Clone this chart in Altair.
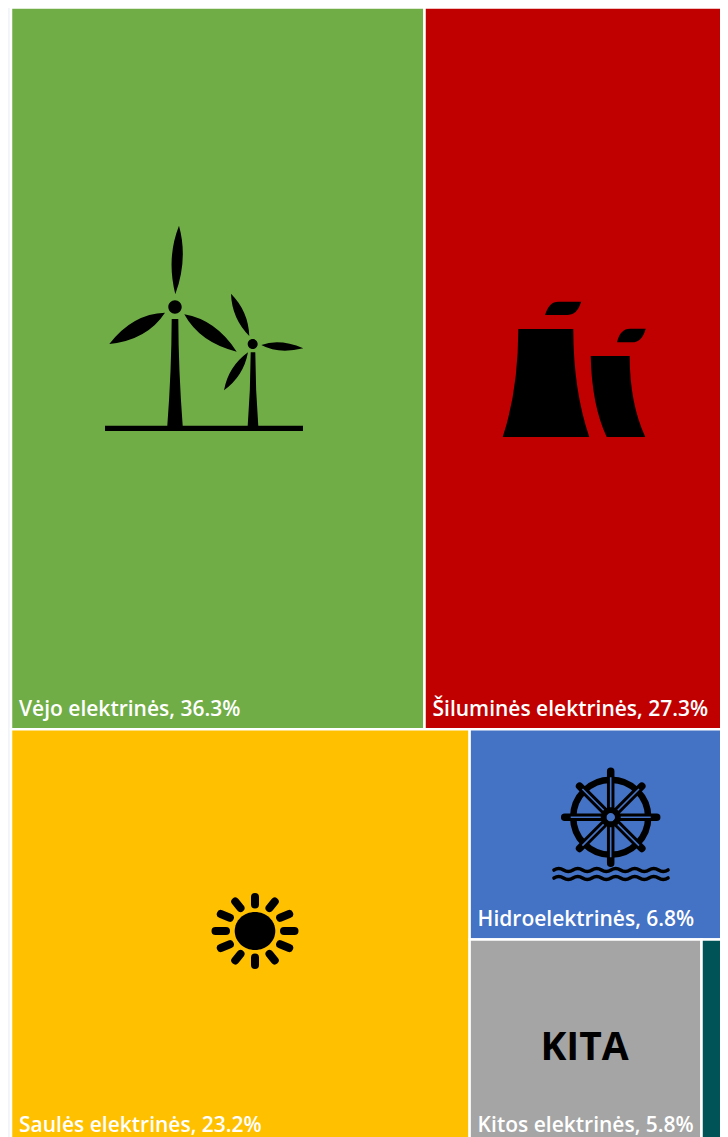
import math
import altair as alt
import pandas as pd

names = ["Vėjo elektrinės", "Šiluminės elektrinės", "Saulės elektrinės",
         "Hidroelektrinės", "Kitos elektrinės", "Kita"]
shares = [36.3, 27.3, 23.2, 6.8, 5.8, 0.85]
shown = ["36.3%", "27.3%", "23.2%", "6.8%", "5.8%", ""]
colors = ["#70AD47", "#C00000", "#FFC000", "#4472C4", "#A5A5A5", "#005357"]

# treemap layout, in percent of the whole width / height
top = shares[0] + shares[1]
bottom = sum(shares[2:])
total = top + bottom
row1 = top / total * 100
side = sum(shares[3:])
xa = shares[0] / top * 100
xb = shares[2] / bottom * 100
yb = row1 + (100 - row1) * shares[3] / side
xc = xb + (100 - xb) * shares[4] / (shares[4] + shares[5])
boxes = [(0, xa, 0, row1), (xa, 100, 0, row1), (0, xb, row1, 100),
         (xb, 100, row1, yb), (xb, xc, yb, 100), (xc, 100, yb, 100)]

df = pd.DataFrame(boxes, columns=["x0", "x1", "y0", "y1"])
df["name"] = names
df["label"] = [f"{n}, {s}" if s else "" for n, s in zip(names, shown)]

# page geometry of the treemap (pixels per percent, and origin on the page)
SX, SY, OX, OY = 7.245, 11.375, 11.0, 7.6
W, H = 712, 1129
x_scale = alt.Scale(domain=[(8 - OX) / SX, (8 + W - OX) / SX], nice=False, zero=False)
y_scale = alt.Scale(domain=[(8 + H - OY) / SY, (8 - OY) / SY], nice=False, zero=False)
X = lambda f: alt.X(f, type="quantitative", scale=x_scale, axis=None)
Y = lambda f: alt.Y(f, type="quantitative", scale=y_scale, axis=None)

rects = alt.Chart(df).mark_rect(stroke="white", strokeWidth=2.5, clip=True).encode(
    x=X("x0"), x2="x1", y=Y("y0"), y2="y1",
    color=alt.Color("name:N", scale=alt.Scale(domain=names, range=colors), legend=None),
)
labels = alt.Chart(df[df.label != ""]).mark_text(
    align="left", baseline="alphabetic", dx=8, dy=-13.5, color="white",
    font="Open Sans", fontSize=21, fontWeight=600, clip=True,
).encode(x=X("x0"), y=Y("y1"), text="label:N")


# ---- icon glyphs: written in page pixels, shifted so they are relative to their box centre
class Pen:
    def __init__(self, box):
        self.cx = OX + SX * (box[0] + box[1]) / 2
        self.cy = OY + SY * (box[2] + box[3]) / 2
        self.ux = (box[0] + box[1]) / 2
        self.uy = (box[2] + box[3]) / 2
        self.d = []

    def pt(self, p):
        return f"{p[0] - self.cx:.2f} {p[1] - self.cy:.2f}"

    def poly(self, *pts):
        self.d.append("M" + "L".join(self.pt(p) for p in pts) + "Z")
        return self

    def line(self, *pts):
        self.d.append("M" + "L".join(self.pt(p) for p in pts))
        return self

    def shape(self, start, *segs):
        s = "M" + self.pt(start)
        for seg in segs:
            s += ("Q" + self.pt(seg[0]) + " " + self.pt(seg[1])) if len(seg) == 2 else ("L" + self.pt(seg[0]))
        self.d.append(s + "Z")
        return self

    def circle(self, c, r, ry=None):
        ry = ry or r
        k = 0.5523
        x, y = c
        pts = [((x + r, y + ry * k), (x + r * k, y + ry), (x, y + ry)),
               ((x - r * k, y + ry), (x - r, y + ry * k), (x - r, y)),
               ((x - r, y - ry * k), (x - r * k, y - ry), (x, y - ry)),
               ((x + r * k, y - ry), (x + r, y - ry * k), (x + r, y))]
        s = "M" + self.pt((x + r, y))
        for a, b, e in pts:
            s += "C" + self.pt(a) + " " + self.pt(b) + " " + self.pt(e)
        self.d.append(s + "Z")
        return self

    def blade(self, base, tip, width, t=0.5):
        dx, dy = tip[0] - base[0], tip[1] - base[1]
        n = math.hypot(dx, dy)
        nx, ny = -dy / n * width, dx / n * width
        mx, my = base[0] + dx * t, base[1] + dy * t
        return self.shape(base, ((mx + nx, my + ny), tip), ((mx - nx, my - ny), base))

    def mark(self, filled=True, sw=0, color="black", cap="butt"):
        kw = dict(shape="".join(self.d), size=4, opacity=1, clip=True)
        if filled:
            kw.update(filled=True, color=color, strokeWidth=0)
        else:
            kw.update(filled=False, color=color, strokeWidth=sw, strokeCap=cap)
        row = pd.DataFrame({"x": [self.ux], "y": [self.uy]})
        return alt.Chart(row).mark_point(**kw).encode(x=X("x"), y=Y("y"))


# wind turbines
wind = Pen(boxes[0])
wind.poly((105, 425.7), (303, 425.7), (303, 431), (105, 431))
wind.shape((167.3, 426), ((171.5, 370), (171.7, 319)), ((178.3, 319),), ((178.5, 370), (182.7, 426)))
wind.circle((175, 307), 6.7)
wind.blade((175.3, 294.3), (179, 225.7), 11, 0.52)
wind.blade((165, 312.7), (109.3, 344), 15, 0.45)
wind.blade((184.3, 314.3), (236.7, 351.7), 14, 0.45)
wind.shape((247.7, 426), ((250.5, 390), (250.7, 352.3)), ((255.3, 352.3),), ((255.5, 390), (258.3, 426)))
wind.circle((252.7, 344), 5)
wind.blade((249.3, 336), (231, 293.7), 9, 0.5)
wind.blade((261.3, 345), (303.3, 348.3), 8, 0.42)
wind.blade((248, 352.3), (224, 390.3), 9, 0.5)

# cooling towers
plant = Pen(boxes[1])
plant.shape((518.3, 329), ((573.3, 329),), ((573.3, 390), (589.3, 437)), ((502.7, 437),), ((518.3, 390), (518.3, 329)))
plant.shape((590.7, 356), ((629.7, 356),), ((629.7, 403.3), (645.3, 437)), ((606.7, 437),), ((591.7, 405), (590.7, 356)))
plant.shape((545, 315), ((549, 301.7), (558.3, 301.7)), ((581.3, 301.7),), ((577, 315), (568, 315)))
plant.shape((617, 342.3), ((620, 328.7), (630, 328.7)), ((645.7, 328.7),), ((642, 342.3), (632.3, 342.3)))

# sun
sun_c = (255, 931)
sun = Pen(boxes[2]).circle(sun_c, 20.3, 19)
rays = Pen(boxes[2])
for i in range(12):
    a = math.radians(30 * i)
    rays.line((sun_c[0] + 29 * math.cos(a), sun_c[1] + 26.5 * math.sin(a)),
              (sun_c[0] + 39.5 * math.cos(a), sun_c[1] + 34 * math.sin(a)))

# ship's wheel over waves
wc = (610.7, 817.3)
ring = Pen(boxes[3]).circle(wc, 37.5)
hub = Pen(boxes[3]).circle(wc, 6.8)
spokes, slits = Pen(boxes[3]), Pen(boxes[3])
for i in range(8):
    a = math.radians(45 * i)
    c, s = math.cos(a), math.sin(a)
    rr = 46 if i % 2 == 0 else 44
    spokes.line((wc[0] + 8 * c, wc[1] + 8 * s), (wc[0] + rr * c, wc[1] + rr * s))
    slits.line((wc[0] + 10 * c, wc[1] + 10 * s), (wc[0] + 40 * c, wc[1] + 40 * s))
waves = Pen(boxes[3])
for wy in (870, 878):
    segs = "M" + waves.pt((554, wy))
    px = 554
    for j in range(12):
        nx = px + 9.5
        up = -3 if j % 2 == 0 else 3
        segs += "Q" + waves.pt((px + 4.75, wy + up)) + " " + waves.pt((nx, wy))
        px = nx
    waves.d.append(segs)

BLUE = colors[3]
icons = [
    wind.mark(), plant.mark(), sun.mark(),
    rays.mark(filled=False, sw=8, cap="round"),
    spokes.mark(filled=False, sw=7.5, cap="round"),
    ring.mark(filled=False, sw=6.5),
    slits.mark(filled=False, sw=1.6, color=BLUE),
    hub.mark(filled=False, sw=5),
    waves.mark(filled=False, sw=3.6, cap="round"),
]

kita = alt.Chart(pd.DataFrame({"x": [(boxes[4][0] + boxes[4][1]) / 2],
                               "y": [(boxes[4][2] + boxes[4][3]) / 2],
                               "t": ["KITA"]})).mark_text(
    font="Open Sans", fontSize=39, fontWeight="bold", color="black",
    baseline="alphabetic", align="center", dy=17.5, dx=-1,
).encode(x=X("x"), y=Y("y"), text="t:N")

chart = alt.layer(rects, labels, *icons, kita).properties(
    width=W, height=H, padding=0, background="#F1F5F9",
    autosize=alt.AutoSizeParams(type="none", contains="padding"),
).configure_view(stroke=None)

chart.save("out.html", embed_options={"renderer": "svg", "actions": False})
